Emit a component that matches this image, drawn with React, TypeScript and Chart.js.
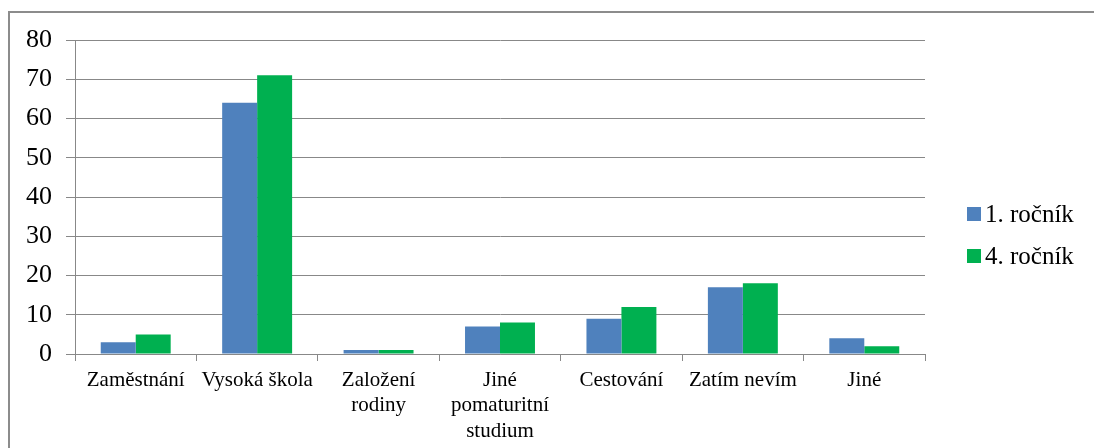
import React, { useEffect, useRef } from "react";
import { Chart, registerables } from "chart.js";

Chart.register(...registerables);

const categories: (string | string[])[] = [
  "Zaměstnání",
  "Vysoká škola",
  ["Založení", "rodiny"],
  ["Jiné", "pomaturitní", "studium"],
  "Cestování",
  "Zatím nevím",
  "Jiné",
];
const series1Label = "1. ročník";
const series1 = [3, 64, 1, 7, 9, 17, 4];
const series2Label = "4. ročník";
const series2 = [5, 71, 1, 8, 12, 18, 2];
const yTicks = [0, 10, 20, 30, 40, 50, 60, 70, 80];

const SERIF = "'Liberation Serif'";

const sideLegend = {
  id: "sideLegend",
  afterDraw(chart: any) {
    const ctx = chart.ctx;
    ctx.save();
    chart.data.datasets.forEach((ds: any, i: number) => {
      const cy = 214 + i * 42;
      ctx.fillStyle = ds.backgroundColor;
      ctx.fillRect(967, cy - 7, 14, 14);
      ctx.fillStyle = "#000";
      ctx.font = `25px ${SERIF}`;
      ctx.textBaseline = "middle";
      ctx.textAlign = "left";
      ctx.fillText(ds.label, 985, cy + 1);
    });
    ctx.restore();
  },
};

export default function App() {
  const ref = useRef<HTMLCanvasElement | null>(null);
  useEffect(() => {
    if (!ref.current) return;
    const chart = new Chart(ref.current, {
      type: "bar",
      data: {
        labels: categories,
        datasets: [
          { label: series1Label, data: series1, backgroundColor: "#4f81bd" },
          { label: series2Label, data: series2, backgroundColor: "#00b050" },
        ],
      },
      plugins: [sideLegend],
      options: {
        responsive: false,
        animation: false,
        devicePixelRatio: 1,
        layout: { padding: { top: 40, right: 169, left: 0, bottom: 0 } },
        datasets: {
          bar: { categoryPercentage: 0.576, barPercentage: 1 },
        },
        plugins: {
          legend: { display: false },
          tooltip: { enabled: false },
        },
        scales: {
          x: {
            offset: true,
            grid: {
              offset: true,
              drawOnChartArea: false,
              drawTicks: true,
              tickLength: 7,
              color: "#888",
            },
            border: { color: "#888", width: 1 },
            ticks: {
              color: "#000",
              padding: 7,
              maxRotation: 0,
              autoSkip: false,
              font: { family: SERIF, size: 21, lineHeight: 1.2 },
            },
            afterFit(scale: any) {
              scale.height = 94;
            },
          },
          y: {
            min: 0,
            max: 80,
            afterBuildTicks(scale: any) {
              scale.ticks = yTicks.map((v) => ({ value: v }));
            },
            grid: {
              color: "#888",
              tickLength: 9,
              drawTicks: true,
            },
            border: { color: "#888", width: 1 },
            ticks: {
              color: "#000",
              padding: 14,
              font: { family: SERIF, size: 26 },
            },
            afterFit(scale: any) {
              scale.width = 75;
            },
          },
        },
      },
    });
    return () => chart.destroy();
  }, []);

  return (
    <div style={{ position: "fixed", inset: 0, overflow: "hidden", background: "#fff" }}>
      <div
        style={{
          position: "absolute",
          left: 8,
          top: 11,
          width: 1200,
          height: 500,
          border: "2px solid #8c8c8c",
        }}
      />
      <canvas
        ref={ref}
        width={1094}
        height={448}
        style={{ position: "absolute", left: 0, top: 0, width: 1094, height: 448 }}
      />
    </div>
  );
}
